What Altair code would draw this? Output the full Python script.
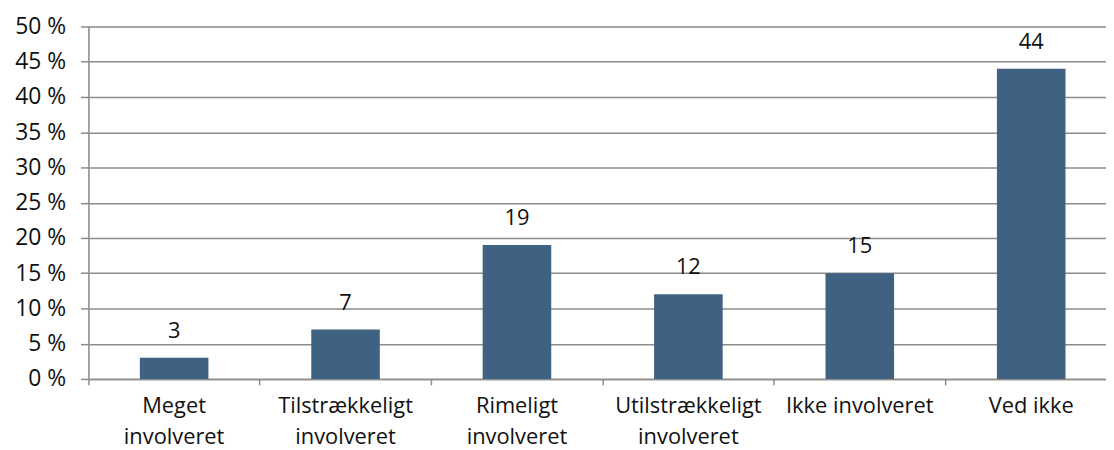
import altair as alt
import pandas as pd

categories = ["Meget\ninvolveret", "Tilstrækkeligt\ninvolveret", "Rimeligt\ninvolveret",
              "Utilstrækkeligt\ninvolveret", "Ikke involveret", "Ved ikke"]
values = [3, 7, 19, 12, 15, 44]
y_ticks = [0, 5, 10, 15, 20, 25, 30, 35, 40, 45, 50]

df = pd.DataFrame({"cat": categories, "val": values})

FONT = "Open Sans"
FS = 22
BAR = "#3F6182"
GRID = "#8C8C8C"

x = alt.X("cat:N", sort=categories, title=None,
          scale=alt.Scale(paddingInner=0, paddingOuter=0, range=[0, 1036]),
          axis=alt.Axis(labelAngle=0, bandPosition=0, labelExpr="split(datum.label, '\\n')",
                        labelFont=FONT, labelFontSize=FS, labelColor="#111111",
                        labelLineHeight=31, labelPadding=11, labelLimit=400,
                        labelOverlap=False, labelBaseline="top",
                        domainColor=GRID, domainWidth=1.5, tickColor=GRID, tickSize=6,
                        tickWidth=1.5, grid=False))
y = alt.Y("val:Q", title=None,
          scale=alt.Scale(domain=[0, 50], nice=False),
          axis=alt.Axis(values=y_ticks, labelExpr="datum.value + ' %'",
                        labelFont=FONT, labelFontSize=23, labelColor="#111111",
                        labelOverlap=False, labelFlush=False,
                        labelPadding=15, domainColor=GRID, domainWidth=1.5,
                        tickColor=GRID, tickSize=8, tickWidth=1.5,
                        gridColor=GRID, gridWidth=1.5))

bars = alt.Chart(df).mark_bar(color=BAR, width=alt.RelativeBandSize(0.4)).encode(x=x, y=y)
labels = alt.Chart(df).mark_text(font=FONT, fontSize=FS, color="#111111",
                                 baseline="alphabetic", dy=-20).encode(
    x=x, y=y, text="val:Q")

chart = (bars + labels).properties(
    width=1025, height=355,
    autosize=alt.AutoSizeParams(type="none"),
    padding={"left": 81, "top": 17, "right": 0, "bottom": 70},
).configure_view(stroke=None).configure(background="white")

chart.save("out.html", embed_options={"renderer": "svg", "actions": False})
